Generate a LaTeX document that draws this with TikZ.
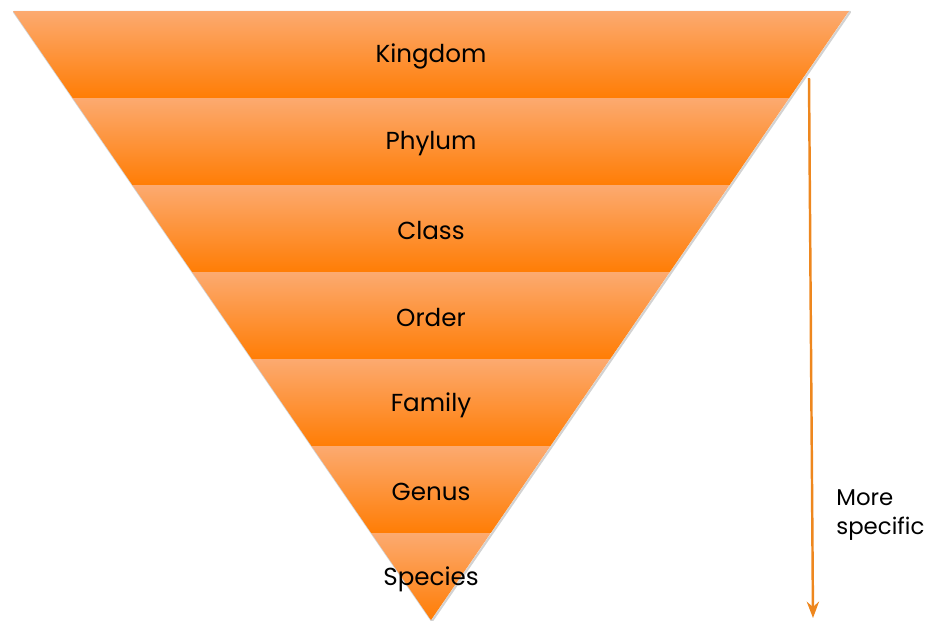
\documentclass[tikz,border=0pt]{standalone}
\usepackage{fontspec}
\setmainfont{Poppins}
\usetikzlibrary{arrows.meta}

\definecolor{bandtop}{RGB}{252,170,112}
\definecolor{bandmid}{RGB}{252,160,95}
\definecolor{bandbot}{RGB}{255,125,5}
\definecolor{arrowline}{RGB}{238,135,30}

\begin{document}
\begin{tikzpicture}[x=0.02cm,y=-0.02cm,>=Stealth,node distance=1.745cm,
    band/.style={top color=bandtop,middle color=bandmid,bottom color=bandbot,shading angle=0},
    rank/.style={font=\fontsize{14}{17}\selectfont,text=black},
    side/.style={font=\fontsize{13}{16.5}\selectfont,align=left,anchor=north west,inner sep=0pt}]

            \useasboundingbox (0,0) rectangle (946,620);

            % soft edge under the funnel
            \draw[gray!35,line width=1.2pt,line join=round] (14,12) -- (850,12) -- (432,621) -- cycle;

            % seven bands, top one widest
            \foreach \i in {0,...,6}
                \shade[band] ({13+59.71*\i},{11+87*\i}) -- ({849-59.71*\i},{11+87*\i})
                    -- ({849-59.71*(\i+1)},{98+87*\i}) -- ({13+59.71*(\i+1)},{98+87*\i}) -- cycle;

            \node[rank] (kingdom) at (431,56) {Kingdom};
            \node[rank] (phylum) [below of = kingdom] {Phylum};
            \node[rank] (class) [below of = phylum] {Class};
            \node[rank] (order) [below of = class] {Order};
            \node[rank] (family) [below of = order] {Family};
            \node[rank] (genus) [below of = family] {Genus};
            \node[rank] (species) [below of = genus] {Species};

            \coordinate (top) at (809,78);
            \coordinate (bottom) at (813,618);
            \draw[->,arrowline,line width=1.4pt] (top) to (bottom);

            \node[side] (specific) at (836,489) {More\\specific};

            ;
        \end{tikzpicture}
\end{document}
